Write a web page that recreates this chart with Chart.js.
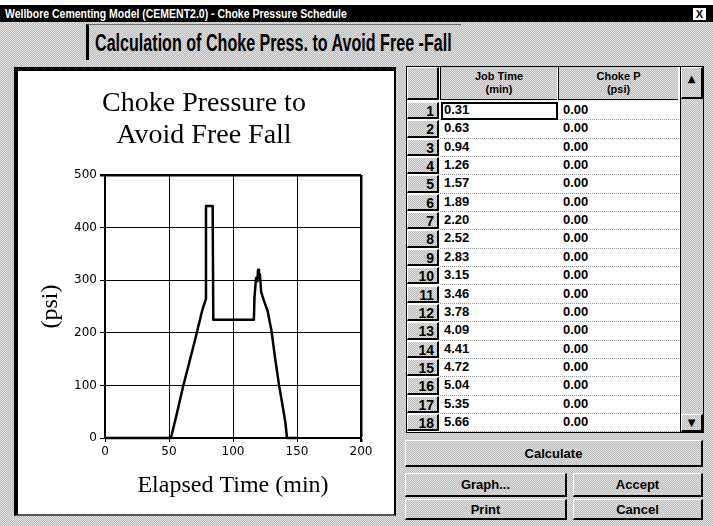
<!DOCTYPE html>
<html lang="en">
<head>
<meta charset="UTF-8">
<title>Choke Pressure Schedule</title>
<script src="https://cdn.jsdelivr.net/npm/chart.js@4.4.0/dist/chart.umd.min.js"></script>
<style>
  body { margin: 0; width: 713px; height: 526px; position: relative; overflow: hidden; background: #fff;
         font-family: "Liberation Sans", Arial, sans-serif; }
  .abs { position: absolute; }
  .dither { background: repeating-conic-gradient(#b9b9b9 0 25%, #e3e3e3 0 50%) 0 0 / 2px 2px; }
  .raised { box-sizing: border-box; border-top: 1px solid #fff; border-left: 1px solid #fff;
            border-right: 2px solid #000; border-bottom: 2px solid #000; }
  .btn { box-sizing: border-box; display: flex; align-items: center; justify-content: center;
         font-weight: bold; font-size: 13px; color: #000; }
  .squeeze { white-space: nowrap; transform-origin: left center; display: inline-block; }
  .cell { font-weight: bold; font-size: 13px; color: #000; line-height: 18px; }
  .rowsep { border-bottom: 1px dotted #9a9a9a; }
</style>
</head>
<body>
  <!-- dialog frame -->
  <div class="abs dither" style="left:0;top:22px;width:713px;height:504px;"></div>
  <div class="abs" style="left:0;top:5px;width:713px;height:17px;background:#000;"></div>
  <div class="abs" style="left:5px;top:6px;height:16px;line-height:16px;color:#fff;font-weight:bold;font-size:13px;">
    <span id="winTitle" class="squeeze">Wellbore Cementing Model (CEMENT2.0) - Choke Pressure Schedule</span>
  </div>
  <div class="abs" style="left:692px;top:7px;width:13px;height:12px;background:#fff;border:1px solid #000;
       font:bold 11px 'Liberation Sans';line-height:12px;text-align:center;">X</div>

  <!-- heading -->
  <div class="abs" style="left:86px;top:24px;width:372px;height:35px;border-left:3px solid #000;border-top:1px solid #666;"></div>
  <div class="abs" style="left:95px;top:29px;height:28px;line-height:28px;font-weight:bold;font-size:23px;text-decoration:underline;">
    <span id="heading" class="squeeze">Calculation of Choke Press. to Avoid Free -Fall</span>
  </div>

  <!-- chart panel -->
  <div class="abs" style="left:14px;top:67px;width:376px;height:443px;background:#fff;
       border-left:4px solid #000;border-top:4px solid #000;border-right:2px solid #000;border-bottom:2px solid #555;"></div>
  <div class="abs" style="left:18px;top:71px;width:375px;height:441px;">
    <canvas id="chokeChart" width="375" height="441"></canvas>
  </div>

  <!-- table -->
  <div id="grid" class="abs" style="left:406px;top:66px;width:298px;height:367px;border:1px solid #000;box-sizing:border-box;background:#fff;"></div>

  <!-- buttons -->
  <div class="abs btn raised dither" style="left:405px;top:440px;width:298px;height:27px;">Calculate</div>
  <div class="abs btn raised dither" style="left:405px;top:473px;width:162px;height:24px;">Graph...</div>
  <div class="abs btn raised dither" style="left:573px;top:473px;width:130px;height:24px;">Accept</div>
  <div class="abs btn raised dither" style="left:405px;top:499px;width:162px;height:21px;">Print</div>
  <div class="abs btn raised dither" style="left:573px;top:499px;width:130px;height:21px;">Cancel</div>

<script>
  // elapsed time (min) and choke pressure (psi)
  const timeMin = [0, 51.5, 56, 61, 66, 71, 76, 78.9, 78.9, 84.1, 84.6, 116.3, 116.8, 118, 119, 119.6,
                   120.3, 121, 122, 124, 127, 130, 133, 136, 139, 141, 142.2, 150];
  const chokePsi = [0, 0, 45, 98, 145, 193, 243, 265, 441, 441, 225, 225, 268, 304, 298, 320,
                    304, 312, 278, 262, 242, 205, 150, 100, 58, 28, 0, 0];

  const xTicks = [0, 50, 100, 150, 200];
  const yTicks = [0, 100, 200, 300, 400, 500];

  // schedule table (first rows shown in the grid)
  const jobTimes = ['0.31', '0.63', '0.94', '1.26', '1.57', '1.89', '2.20', '2.52', '2.83',
                    '3.15', '3.46', '3.78', '4.09', '4.41', '4.72', '5.04', '5.35', '5.66'];
  const chokeValues = ['0.00', '0.00', '0.00', '0.00', '0.00', '0.00', '0.00', '0.00', '0.00',
                       '0.00', '0.00', '0.00', '0.00', '0.00', '0.00', '0.00', '0.00', '0.00'];

  // squeeze the narrow window fonts to their widths
  function fitWidth(id, target) {
    const el = document.getElementById(id);
    el.style.transform = 'scaleX(' + (target / el.offsetWidth) + ')';
  }
  fitWidth('winTitle', 342);
  fitWidth('heading', 357);

  // build the grid
  const grid = document.getElementById('grid');
  function add(parent, cls, style, text) {
    const d = document.createElement('div');
    d.className = 'abs ' + cls;
    d.style.cssText = style;
    if (text !== undefined) d.innerHTML = text;
    parent.appendChild(d);
    return d;
  }
  add(grid, 'dither raised', 'left:0;top:0;width:32px;height:33px;');
  add(grid, 'dither', 'left:33px;top:0;width:117px;height:33px;border-left:1px solid #000;border-bottom:1px solid #000;' +
      'font:bold 11px "Liberation Sans";text-align:center;line-height:13px;padding-top:3px;box-sizing:border-box;',
      'Job Time<br>(min)');
  add(grid, 'dither', 'left:151px;top:0;width:120px;height:33px;border-left:1px solid #000;border-bottom:1px solid #000;' +
      'font:bold 11px "Liberation Sans";text-align:center;line-height:13px;padding-top:3px;box-sizing:border-box;',
      'Choke P<br>(psi)');
  // scrollbar
  add(grid, 'dither', 'left:273px;top:0;width:23px;height:365px;border-left:1px solid #000;box-sizing:border-box;');
  add(grid, 'dither raised', 'left:274px;top:0;width:22px;height:32px;font:bold 10px "DejaVu Sans";text-align:center;line-height:22px;', '&#9650;');
  add(grid, 'dither raised', 'left:274px;top:347px;width:22px;height:18px;font:bold 10px "DejaVu Sans";text-align:center;line-height:16px;', '&#9660;');

  const rowH = 18.35;
  jobTimes.forEach((t, i) => {
    const top = 35 + i * rowH;
    add(grid, 'dither raised cell', 'left:0;top:' + top + 'px;width:32px;height:' + (rowH - 1) +
        'px;text-align:right;padding-right:3px;line-height:16px;font-size:14px;', String(i + 1));
    add(grid, 'rowsep', 'left:33px;top:' + top + 'px;width:239px;height:' + (rowH - 1) + 'px;');
    add(grid, 'cell', 'left:37px;top:' + (top - 1) + 'px;', t);
    add(grid, 'cell', 'left:156px;top:' + (top - 1) + 'px;', chokeValues[i]);
  });
  // current cell
  add(grid, '', 'left:34px;top:35px;width:117px;height:18px;border:2px solid #000;box-sizing:border-box;');

  // chart
  const points = timeMin.map((t, i) => ({ x: t, y: chokePsi[i] }));
  const serif = 'Liberation Serif';

  new Chart(document.getElementById('chokeChart'), {
    type: 'line',
    data: {
      datasets: [{
        data: points,
        borderColor: '#000',
        borderWidth: 2.5,
        borderJoinStyle: 'round',
        pointRadius: 0,
        tension: 0,
        fill: false,
        clip: false
      }]
    },
    options: {
      responsive: false,
      animation: false,
      layout: { padding: { left: 14, right: 17, top: 0, bottom: 8 } },
      plugins: {
        legend: { display: false },
        tooltip: { enabled: false },
        title: {
          display: true,
          text: ['Choke Pressure to', 'Avoid Free Fall'],
          color: '#000',
          font: { family: serif, size: 28, weight: 'normal', lineHeight: 32 / 28 },
          padding: { top: 16.5, bottom: 23.5 }
        }
      },
      scales: {
        x: {
          type: 'linear',
          min: 0,
          max: 200,
          afterBuildTicks: s => { s.ticks = xTicks.map(v => ({ value: v })); },
          afterFit: s => { s.height = 66; },
          ticks: { color: '#000', font: { family: 'DejaVu Sans', size: 12 }, padding: 3, maxRotation: 0 },
          grid: {
            color: '#000',
            lineWidth: c => (c.tick && c.tick.value === 200 ? 2.5 : 1),
            tickLength: 4
          },
          border: { color: '#000', width: 2 },
          title: {
            display: true,
            text: 'Elapsed Time (min)',
            color: '#000',
            font: { family: serif, size: 24, weight: 'normal' },
            padding: { top: 4, bottom: 4 }
          }
        },
        y: {
          min: 0,
          max: 500,
          afterBuildTicks: s => { s.ticks = yTicks.map(v => ({ value: v })); },
          afterFit: s => { s.width = 73; },
          ticks: { color: '#000', font: { family: 'DejaVu Sans', size: 12 }, padding: 3 },
          grid: {
            color: '#000',
            lineWidth: c => (c.tick && c.tick.value === 500 ? 2.5 : 1),
            tickLength: 5
          },
          border: { color: '#000', width: 2 },
          title: {
            display: true,
            text: '(psi)',
            color: '#000',
            font: { family: serif, size: 24, weight: 'normal' },
            padding: { top: 4, bottom: 4 }
          }
        },
        yRight: {
          position: 'right',
          display: true,
          min: 0,
          max: 500,
          ticks: { display: false },
          grid: { display: false, drawTicks: false },
          border: { display: false },
          afterFit: s => { s.width = 15; }
        }
      }
    }
  });
</script>
</body>
</html>
